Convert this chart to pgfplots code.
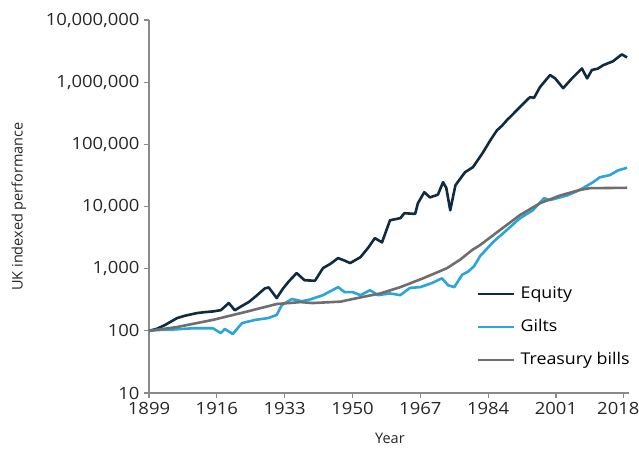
\documentclass[border=0pt]{standalone}
\usepackage{pgfplots}
\pgfplotsset{compat=1.18}
\usepackage{fontspec}
\setmainfont{Open Sans}
\newfontfamily\wide[FakeStretch=1.1]{Open Sans}
\definecolor{equity}{HTML}{0F2B42}
\definecolor{gilts}{HTML}{2AA5DC}
\definecolor{tbills}{HTML}{6E6E6E}
\definecolor{axgray}{HTML}{8A8A8A}
\begin{document}
\begin{tikzpicture}
\begin{axis}[
  scale only axis,
  width=480pt, height=373pt,
  xmin=1899, xmax=2019.3,
  ymode=log, ymin=10, ymax=10000000,
  axis lines*=left,
  axis line style={draw=axgray, line width=1.3pt},
  tick style={draw=axgray, line width=1.1pt},
  tick align=outside,
  major tick length=5pt,
  minor tick length=0pt,
  xtick={1899,1916,1933,1950,1967,1984,2001,2018},
  xticklabels={1899,1916,1933,1950,1967,1984,2001,{\kern-11pt2018}},
  ytick={10,100,1000,10000,100000,1000000,10000000},
  yticklabels={10,100,{1,000},{10,000},{100,000},{1,000,000},{10,000,000}},
  ticklabel style={font=\wide\fontsize{16.8}{19}\selectfont, text=black!85},
  xticklabel style={yshift=-1pt},
  yticklabel style={xshift=-1pt},
  xlabel={Year},
  ylabel={UK indexed performance},
  label style={font=\fontsize{14.5}{17}\selectfont, text=black!85},
  xlabel style={at={(axis description cs:0.502,-0.121)}, anchor=center},
  ylabel style={at={(axis description cs:-0.271,0.5)}, anchor=center},
  legend style={draw=none, fill=none, at={(0.683,0.287)}, anchor=north west,
    font=\wide\fontsize{16.2}{19}\selectfont, row sep=17pt, inner sep=0pt,
    nodes={inner sep=0pt, text height=12pt, text depth=4pt},
    /tikz/every odd column/.append style={column sep=5pt}},
  legend cell align=left,
  legend image code/.code={\draw[#1] (0pt,0pt) -- (36pt,0pt);},
  clip=false,
]
\addplot[color=equity, line width=2.6pt, line join=round] coordinates {
(1899,100) (1901,108) (1903,124) (1906,160) (1908,175) (1911,193) (1913,200)
(1915,205) (1917,215) (1918,245) (1919,280) (1920.5,214) (1922,245) (1924,290)
(1926,370) (1928,480) (1929,500) (1931,337) (1932.6,480) (1934,620) (1936,850)
(1938,650) (1940.6,640) (1942.6,1020) (1944.5,1200) (1946.4,1480) (1948,1350)
(1949.4,1230) (1952,1530) (1954,2200) (1955.6,3100) (1957.4,2650) (1959.4,6000)
(1962,6500) (1963,7800) (1965.7,7600) (1966.4,11300) (1968,17000) (1969.4,14000)
(1971.4,15500) (1972.7,24600) (1973.5,20000) (1974.5,8700) (1975.8,22000)
(1978.2,35600) (1980.2,43000) (1982.7,74000) (1984.5,115000) (1986.2,168000)
(1987.5,200000) (1988.7,245000) (1990,296000) (1991.2,355000) (1993.7,515000)
(1994.5,575000) (1995.5,560000) (1997,835000) (1999.5,1300000) (2000.8,1150000)
(2002.8,800000) (2005,1150000) (2007.5,1660000) (2008.8,1150000) (2010,1570000)
(2011.5,1650000) (2012.8,1870000) (2015.3,2170000) (2017.5,2800000) (2018.8,2500000)
};
\addlegendentry{Equity}
\addplot[color=gilts, line width=2.6pt, line join=round] coordinates {
(1899,100) (1901,103) (1905,105) (1910,110) (1915,110) (1917,92) (1918,107)
(1920,89) (1922.3,133) (1925.6,150) (1928.8,160) (1931,180) (1932.3,260)
(1934.8,325) (1937.3,300) (1939.4,320) (1942.6,375) (1946.4,505) (1948,420)
(1950,420) (1952,375) (1954.4,450) (1956.4,375) (1959.4,400) (1962,375)
(1964.4,490) (1967,505) (1970,590) (1972.4,700) (1974,540) (1975.5,505)
(1977.5,800) (1979,900) (1980.5,1100) (1982,1600) (1985.3,2700) (1988.7,4200)
(1992,6500) (1995.2,8700) (1998,13600) (1999.5,12700) (2003.7,15000) (2007,18500)
(2010.3,24600) (2012,29500) (2014.5,32000) (2016.5,38000) (2018.8,42000)
};
\addlegendentry{Gilts}
\addplot[color=tbills, line width=2.6pt, line join=round] coordinates {
(1899,100) (1906,115) (1915,150) (1923,200) (1931,270) (1937,290) (1940,280)
(1947,295) (1952,345) (1957,400) (1962,505) (1967.7,700) (1973.7,1020)
(1977,1400) (1980,2000) (1982,2400) (1987,4200) (1992,7300) (1997,11300)
(2002,15000) (2007,18500) (2009.5,19700) (2018.8,20000)
};
\addlegendentry{Treasury bills}
\end{axis}
\pgfresetboundingbox
\path (-149pt,-55pt) rectangle (490pt,393pt);
\end{tikzpicture}
\end{document}
